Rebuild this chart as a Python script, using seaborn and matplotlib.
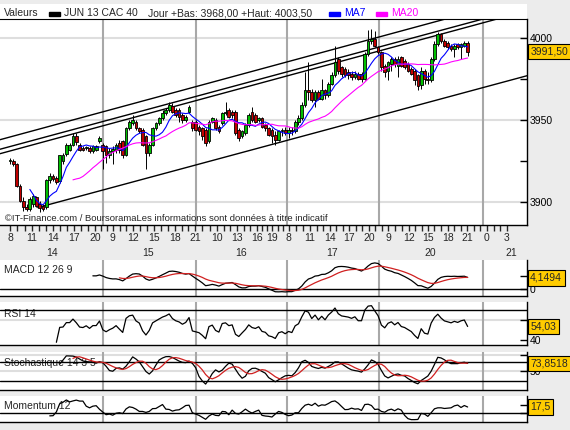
import numpy as np
import pandas as pd
import matplotlib
matplotlib.use("Agg")
import matplotlib.pyplot as plt
import seaborn as sns
from matplotlib.patches import Rectangle
from matplotlib.ticker import FixedLocator

# ---- price data (30 min candles) ----
opens = [3925, 3925, 3923, 3910, 3901, 3897, 3896, 3899, 3903, 3899, 3898, 3897, 3913.5, 3916, 3914.5,
         3913, 3925, 3929.5, 3932, 3935, 3940, 3935, 3933, 3933, 3933, 3931, 3932, 3937,
         3935, 3934, 3929, 3931, 3932, 3936, 3937, 3929, 3945, 3948, 3949, 3945, 3944, 3940,
         3930, 3935, 3945, 3948, 3951, 3954, 3956, 3958.5, 3956, 3956, 3953, 3950, 3955, 3949,
         3949, 3946, 3945, 3944, 3937, 3949, 3950, 3946, 3948, 3954, 3956, 3955, 3955, 3944,
         3940, 3942, 3947, 3955, 3953, 3950, 3951, 3947, 3945, 3944, 3941, 3938, 3943, 3944,
         3942, 3944, 3943, 3949, 3951, 3959, 3968, 3967, 3962, 3967, 3963, 3968, 3965, 3972,
         3977, 3987, 3982, 3981, 3979, 3978, 3976, 3978, 3978, 3975, 3990, 3998, 3999,
         3994, 3991, 3983, 3980, 3984, 3987, 3983, 3988, 3986, 3984, 3981, 3980, 3977, 3971,
         3980, 3975, 3974, 3987, 3996, 4002, 3998, 3997, 3995, 3993, 3996, 3994, 3995, 3997]
highs = [3927, 3926, 3924, 3911, 3903, 3899, 3903, 3905, 3904, 3901, 3899, 3914, 3918, 3917, 3916,
         3929, 3930, 3936, 3936, 3942, 3942, 3936, 3934, 3934, 3934, 3934.5, 3935, 3940,
         3936, 3935, 3933, 3934, 3936, 3938, 3938, 3946, 3950, 3953, 3950, 3946, 3945, 3941,
         3936, 3946, 3949, 3952, 3956, 3957, 3961, 3960, 3957, 3957, 3954, 3953, 3959, 3950,
         3950, 3947, 3946, 3945, 3950, 3952, 3951, 3947, 3955, 3961, 3957, 3956, 3956, 3945,
         3944, 3948, 3954, 3958, 3954, 3952, 3952, 3948, 3946, 3945, 3943, 3944, 3945, 3946,
         3946, 3946, 3950, 3953, 3961, 3979, 3985, 3969, 3968, 3968, 3975, 3969, 3973, 3979,
         3995, 3988, 3983, 3982, 3981, 3980, 3980, 3979, 3979, 3991, 4004.5, 4005, 4004,
         3995, 3992, 3984, 3986, 3988, 3988, 3989, 3989, 3987, 3985, 3982, 3981, 3978, 3982,
         3981, 3979, 3988, 3998, 4003.5, 4003, 3999, 3998, 3996, 3996, 3997, 3997, 3998, 3998]
lows = [3923, 3922, 3909, 3900, 3895, 3895, 3895, 3897, 3897, 3894, 3895, 3896, 3912, 3913, 3911,
        3912, 3923, 3928, 3931, 3934, 3935, 3931, 3931, 3932, 3930, 3930, 3931, 3936,
        3920, 3924, 3927, 3923, 3930, 3930, 3927, 3928, 3944, 3947, 3944, 3942, 3934, 3920,
        3928, 3934, 3944, 3947, 3950, 3953, 3955, 3954, 3952, 3949, 3948, 3949, 3954, 3943,
        3943, 3941, 3938, 3934, 3936, 3948, 3944, 3942, 3947, 3953, 3951, 3951, 3941, 3937,
        3939, 3941, 3946, 3949, 3948, 3949, 3945, 3943, 3940, 3936, 3935, 3937, 3940, 3941,
        3939, 3941, 3942, 3947, 3950, 3958, 3962, 3961, 3958, 3962, 3962, 3963, 3964, 3971,
        3976, 3978, 3976, 3976, 3975, 3974, 3975, 3974, 3973, 3974, 3989, 3996, 3994,
        3990, 3980, 3976, 3974, 3980, 3982, 3976, 3982, 3981, 3979, 3977, 3971, 3968, 3969,
        3972, 3972, 3973, 3986, 3995, 3997, 3994, 3993, 3992, 3988, 3993, 3987, 3994, 3989]
closes = [3925.5, 3923, 3910, 3901, 3897, 3896, 3902, 3904, 3898, 3896.5, 3896, 3913.5, 3916, 3914, 3912.5,
          3928.5, 3929, 3935, 3935, 3940, 3936.5, 3932, 3931.5, 3933.5, 3931, 3934, 3934, 3939,
          3931, 3929, 3931, 3932.5, 3935, 3932, 3929, 3945, 3949, 3950, 3945, 3943, 3935, 3930,
          3935, 3945, 3948, 3951, 3954, 3956, 3959, 3955, 3953, 3952, 3950, 3952, 3958, 3945,
          3944, 3943, 3940, 3936, 3949, 3951, 3945, 3943, 3954, 3955, 3952, 3953, 3942, 3939,
          3943, 3947, 3953, 3950, 3949, 3951, 3946, 3945, 3941, 3940, 3938, 3943, 3944, 3942,
          3944, 3943, 3949, 3951, 3959, 3968, 3967, 3962, 3967, 3963, 3968, 3965, 3972, 3977,
          3985, 3980, 3978, 3977.5, 3977, 3976, 3978, 3975, 3975, 3990, 3998, 3999, 3995,
          3991, 3982, 3979, 3985, 3987, 3984, 3987, 3983, 3982, 3980, 3978, 3974, 3970.5, 3980,
          3975, 3974, 3987, 3996, 4002, 3998, 3995, 3994, 3993, 3995, 3994, 3996, 3997, 3991.5]

# axis labels
hour_labels = ["8", "11", "14", "17", "20", "9", "12", "15", "18", "21", "10", "13", "16", "19",
               "8", "11", "14", "17", "20", "9", "12", "15", "18", "21", "0", "3"]
hour_pos = [0, 6.6, 13, 19.3, 25.6, 31, 37.1, 43.4, 49.7, 55.8, 62.4, 68.4, 74.5, 79.1,
            84.1, 90.4, 96.5, 102.2, 108.2, 114, 120.3, 126, 132, 137.8, 143.8, 149.8]
day_labels = ["14", "15", "16", "17", "20", "21"]
day_pos = [12.7, 41.6, 69.6, 97.1, 126.6, 151.3]
day_breaks = [28.0, 56.1, 83.5, 111.2, 142.6]

# trend channel lines: (x0, y0, x1, y1)
trend_lines = [(-3, 3938.0, 150, 4021.5),
               (-3, 3932.2, 150, 4015.3),
               (-3, 3929.5, 150, 4013.0),
               (8.4, 3896.8, 156, 3976.9)]

last_labels = ["3991,50", "4,1494", "54,03", "73,8518", "17,5"]

# ---- indicators ----
df = pd.DataFrame({"o": opens, "h": highs, "l": lows, "c": closes})
df["i"] = np.arange(len(df))
df["ma7"] = df.c.rolling(7).mean()
df["ma20"] = df.c.rolling(20).mean()
macd = df.c.ewm(span=12, adjust=False).mean() - df.c.ewm(span=26, adjust=False).mean()
macd[:25] = np.nan
sig = macd.ewm(span=9, adjust=False).mean()
sig[:33] = np.nan
df["macd"], df["sig"] = macd, sig
d = df.c.diff()
up = d.clip(lower=0).ewm(alpha=1 / 14, adjust=False, min_periods=14).mean()
dn = (-d).clip(lower=0).ewm(alpha=1 / 14, adjust=False, min_periods=14).mean()
df["rsi"] = 100 - 100 / (1 + up / dn)
ll = df.l.rolling(14).min()
hh = df.h.rolling(14).max()
df["k"] = (100 * (df.c - ll) / (hh - ll)).rolling(3).mean()
df["dd"] = df.k.rolling(5).mean()
df["mom"] = df.c - df.c.shift(12)

# ---- figure ----
sns.set_style("white")
plt.rcParams['font.family'] = ['Liberation Sans', 'DejaVu Sans']
FS = 7.5
W, H = 570, 430
fig = plt.figure(figsize=(W / 100, H / 100), dpi=100, facecolor='#ececec')


def px_axes(x0, y0, x1, y1):
    return fig.add_axes([x0 / W, 1 - y1 / H, (x1 - x0) / W, (y1 - y0) / H])


XL = (-3.0, 155.9)

header = px_axes(0, 4, 527, 19)
header.set_facecolor('white')
header.set_xticks([]); header.set_yticks([])
for s in header.spines.values():
    s.set_visible(False)


def ftext(x, y, s, **kw):
    fig.text(x / W, 1 - y / H, s, va='center', fontsize=FS, **kw)


def frect(x0, y0, x1, y1, c):
    fig.patches.append(Rectangle((x0 / W, 1 - y1 / H), (x1 - x0) / W, (y1 - y0) / H,
                                 transform=fig.transFigure, color=c, zorder=5))


ftext(4, 13.5, "Valeurs")
frect(49, 12, 60, 16, 'black')
ftext(64, 13.5, "JUN 13 CAC 40")
ftext(148, 13.5, "Jour +Bas: 3968,00 +Haut: 4003,50")
frect(329, 12, 340, 16, '#0000ff')
ftext(344, 13.5, "MA7", color='#0000ff')
frect(376, 12, 387, 16, '#ff00ff')
ftext(391, 13.5, "MA20", color='#ff00ff')

ax = px_axes(0, 19, 527, 225)
panels = [px_axes(0, 260, 527, 296), px_axes(0, 302, 527, 344.5),
          px_axes(0, 352, 527, 390), px_axes(0, 396, 527, 422)]


def style(a):
    a.set_facecolor('white')
    a.set_xlim(*XL)
    for k in ('left', 'top'):
        a.spines[k].set_visible(False)
    for k in ('right', 'bottom'):
        a.spines[k].set_color('black')
        a.spines[k].set_linewidth(1)
    a.yaxis.tick_right()
    a.tick_params(axis='y', which='both', direction='in', length=5, width=1,
                  pad=2, labelsize=FS, colors='black')
    for b in day_breaks:
        a.axvline(b, color='#a8a8a8', lw=1.5, zorder=0.5)
    a.set_xlabel(''); a.set_ylabel('')


for a in [ax] + panels:
    style(a)

# main panel
ax.spines['top'].set_visible(True)
ax.spines['top'].set_color('black')
ax.set_ylim(3886.2, 4011.3)
for g in (3900, 3950, 4000):
    ax.axhline(g, color='#dedede', lw=1.5, zorder=0.3)
ax.set_yticks([3900, 3950, 4000])
ax.yaxis.set_minor_locator(FixedLocator([3925, 3975]))
ax.set_xticks(hour_pos, hour_labels)
minor = []
for a0, a1 in zip(hour_pos[:-1], hour_pos[1:]):
    minor += [a0 + (a1 - a0) / 3, a0 + 2 * (a1 - a0) / 3]
ax.xaxis.set_minor_locator(FixedLocator(minor))
ax.tick_params(axis='x', which='both', direction='out', length=4, width=1,
               labelsize=FS, pad=2, bottom=True)
for p, lab in zip(day_pos, day_labels):
    ax.text(p, -0.136, lab, transform=ax.get_xaxis_transform(), ha='center',
            va='center', fontsize=FS)

for x0, y0, x1, y1 in trend_lines:
    ax.plot([x0, x1], [y0, y1], color='black', lw=1, zorder=2)

x = df.i.values
o, c = df.o.values, df.c.values
ax.vlines(x, df.l, df.h, color='black', lw=0.7, zorder=3)
cols = np.where(c >= o, '#00c000', '#c00000')
ax.bar(x, np.abs(c - o), bottom=np.minimum(o, c), width=0.82, color=cols,
       edgecolor='black', linewidth=0.6, zorder=4)
sns.lineplot(data=df, x='i', y='ma7', ax=ax, color='#0000ff', lw=0.8,
             estimator=None, zorder=5)
sns.lineplot(data=df, x='i', y='ma20', ax=ax, color='#ff00ff', lw=0.8,
             estimator=None, zorder=5)
ax.set_xlabel(''); ax.set_ylabel('')
ax.text(5 / 527, 0.032, "©IT-Finance.com / BoursoramaLes informations sont données à titre indicatif",
        transform=ax.transAxes, fontsize=6.8, va='center', zorder=6)


def value_box(a, y, s):
    a.text(1.006, y, s, transform=a.get_yaxis_transform(), ha='left', va='center',
           fontsize=FS, zorder=20, clip_on=False,
           bbox=dict(boxstyle='square,pad=0.25', fc='#ffcc00', ec='black', lw=0.8))


value_box(ax, 3991.5, last_labels[0])


def pad_lim(vals, top, bot):
    lo, hi = np.nanmin(vals), np.nanmax(vals)
    r = hi - lo
    return lo - bot * r, hi + top * r


titles = ["MACD 12 26 9", "RSI 14", "Stochastique 14 3 5", "Momentum 12"]
for a, t in zip(panels, titles):
    a.text(4 / 527, 0.72 if t != "Momentum 12" else 0.6, t, transform=a.transAxes,
           fontsize=FS, va='center', zorder=1)
    a.set_xticks([])

# MACD
pm = panels[0]
pm.set_ylim(*pad_lim(np.r_[df.macd.dropna(), df.sig.dropna()], 0.1, 0.14))
pm.axhline(0, color='black', lw=1, zorder=1)
sns.lineplot(data=df, x='i', y='macd', ax=pm, color='black', lw=0.9, estimator=None, zorder=3)
sns.lineplot(data=df, x='i', y='sig', ax=pm, color='#d02020', lw=0.9, estimator=None, zorder=3)
pm.set_yticks([0, 5], ['0', ''])
value_box(pm, 4.1494, last_labels[1])

# RSI
pr = panels[1]
pr.set_ylim(*pad_lim(df.rsi.dropna(), 0.1, 0.06))
pr.axhline(60, color='#dedede', lw=1.5, zorder=0.3)
for lv in (30, 70):
    pr.axhline(lv, color='black', lw=1, zorder=1)
sns.lineplot(data=df, x='i', y='rsi', ax=pr, color='black', lw=0.9, estimator=None, zorder=3)
pr.set_yticks([40, 60], ['40', ''])
value_box(pr, 54.03, last_labels[2])

# Stochastic
ps = panels[2]
ps.set_ylim(-10, 110)
for g in (50, 100):
    ps.axhline(g, color='#dedede', lw=1.5, zorder=0.3)
for lv in (20, 80):
    ps.axhline(lv, color='black', lw=1, zorder=1)
sns.lineplot(data=df, x='i', y='k', ax=ps, color='black', lw=0.9, estimator=None, zorder=3)
sns.lineplot(data=df, x='i', y='dd', ax=ps, color='#d02020', lw=0.9, estimator=None, zorder=3)
ps.set_yticks([50, 100], ['50', ''])
value_box(ps, 73.8518, last_labels[3])

# Momentum
pmo = panels[3]
pmo.set_ylim(*pad_lim(df.mom.dropna(), 0.2, 0.12))
pmo.axhline(0, color='black', lw=1, zorder=1)
sns.lineplot(data=df, x='i', y='mom', ax=pmo, color='black', lw=0.9, estimator=None, zorder=3)
pmo.set_yticks([0, 25], ['', ''])
value_box(pmo, 17.5, last_labels[4])

for a in panels:
    a.set_xlabel(''); a.set_ylabel('')
    a.set_xlim(*XL)
ax.set_xlim(*XL)

fig.savefig("out.png", dpi=100, facecolor=fig.get_facecolor())
